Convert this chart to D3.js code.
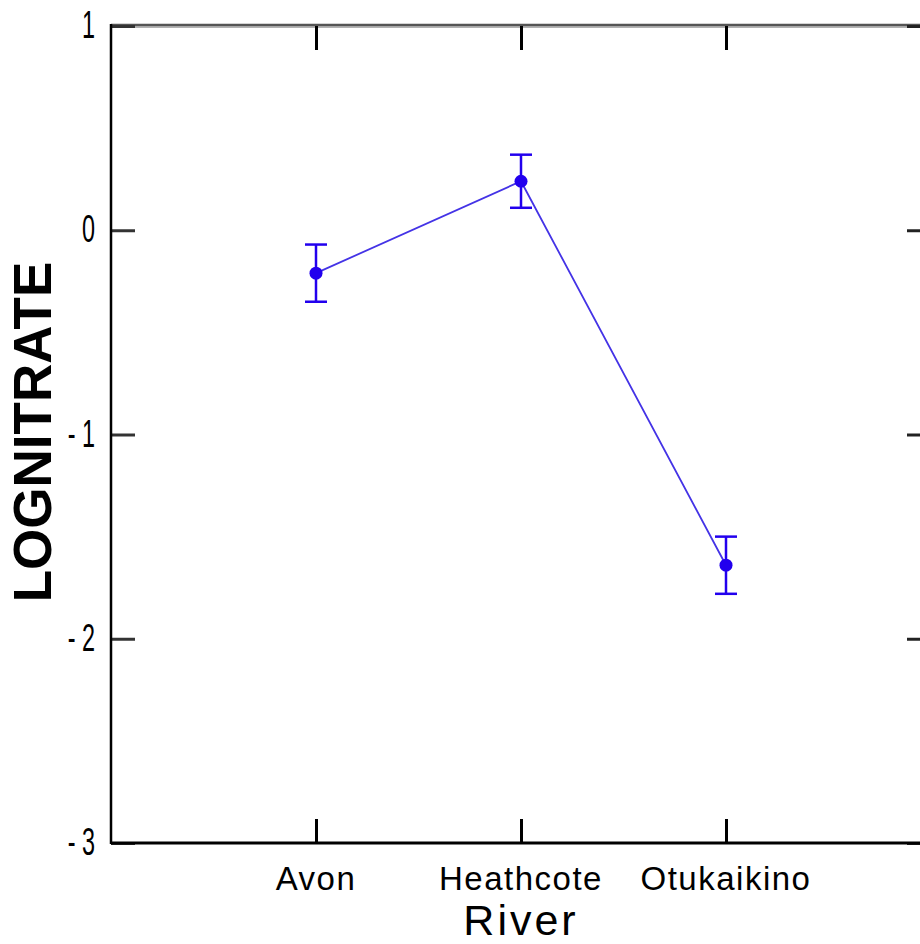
<!DOCTYPE html>
<html>
<head>
<meta charset="utf-8">
<script src="https://cdn.jsdelivr.net/npm/d3@7"></script>
<style>
  html, body { margin: 0; padding: 0; background: #fff; overflow: hidden; }
  svg { display: block; }
</style>
</head>
<body>
<svg id="chart" width="920" height="944"></svg>
<script>
// ---- data ----
const rivers = ["Avon", "Heathcote", "Otukaikino"];
const means = [-0.21, 0.24, -1.64];
const lower = [-0.35, 0.11, -1.78];
const upper = [-0.07, 0.37, -1.50];
const yTicks = [1, 0, -1, -2, -3];
const xTitle = "River";
const yTitle = "LOGNITRATE";

const svg = d3.select("#chart");
const L = 111, R = 931, T = 26, B = 843;

const x = d3.scalePoint().domain(rivers).range([L, R]).padding(1);
const y = d3.scaleLinear().domain([-3, 1]).range([B, T]);

const tickLen = 24;
const font = "'Liberation Sans', Arial, sans-serif";

// frame lines
svg.append("line").attr("x1", L).attr("x2", 920).attr("y1", T - 1).attr("y2", T - 1)
  .attr("stroke", "#555").attr("stroke-width", 2.5);
svg.append("line").attr("x1", L).attr("x2", 920).attr("y1", T + 1).attr("y2", T + 1)
  .attr("stroke", "#999").attr("stroke-width", 1.5);

// left axis
const gL = svg.append("g").attr("transform", `translate(${L},0)`)
  .call(d3.axisRight(y).tickValues(yTicks).tickSize(tickLen).tickFormat(""));
gL.select(".domain").remove();
gL.selectAll(".tick line").attr("stroke", "#333").attr("stroke-width", 3);
svg.append("line").attr("x1", L).attr("x2", L).attr("y1", T - 2).attr("y2", B + 1)
  .attr("stroke", "#000").attr("stroke-width", 2.5);

// y tick labels (tall narrow digits)
svg.append("g").selectAll("text").data(yTicks).join("text")
  .attr("transform", d => `translate(95,${y(d) + 12}) scale(0.6,1)`)
  .attr("text-anchor", "end")
  .attr("font-family", font)
  .attr("font-size", 39)
  .attr("fill", "#000")
  .text(d => d < 0 ? "- " + Math.abs(d) : d);

// right axis ticks
const gR = svg.append("g").attr("transform", `translate(${R},0)`)
  .call(d3.axisLeft(y).tickValues(yTicks).tickSize(tickLen).tickFormat(""));
gR.select(".domain").remove();
gR.selectAll(".tick line").attr("stroke", "#222").attr("stroke-width", 3);

// bottom axis
const gB = svg.append("g").attr("transform", `translate(0,${B})`)
  .call(d3.axisTop(x).tickSize(tickLen).tickFormat(""));
gB.select(".domain").remove();
gB.selectAll(".tick line").attr("stroke", "#000").attr("stroke-width", 3);
svg.append("line").attr("x1", L).attr("x2", 920).attr("y1", B).attr("y2", B)
  .attr("stroke", "#000").attr("stroke-width", 3);

// top axis ticks
const gT = svg.append("g").attr("transform", `translate(0,${T})`)
  .call(d3.axisBottom(x).tickSize(tickLen).tickFormat(""));
gT.select(".domain").remove();
gT.selectAll(".tick line").attr("stroke", "#000").attr("stroke-width", 3);

// x tick labels
svg.append("g").selectAll("text").data(rivers).join("text")
  .attr("x", d => x(d))
  .attr("y", 890)
  .attr("text-anchor", "middle")
  .attr("font-family", font)
  .attr("font-size", 33)
  .attr("letter-spacing", 1.5)
  .attr("fill", "#000")
  .text(d => d);

// axis titles
svg.append("text")
  .attr("x", 521).attr("y", 935)
  .attr("text-anchor", "middle")
  .attr("font-family", font)
  .attr("font-size", 43)
  .attr("letter-spacing", 3)
  .attr("fill", "#000")
  .text(xTitle);

svg.append("text")
  .attr("transform", `translate(51,432) rotate(-90)`)
  .attr("text-anchor", "middle")
  .attr("font-family", font)
  .attr("font-weight", "bold")
  .attr("font-size", 53)
  .attr("fill", "#000")
  .text(yTitle);

// data
const pts = rivers.map((r, i) => ({ r, m: means[i], lo: lower[i], hi: upper[i] }));
const blue = "#2200ee";

svg.append("path").datum(pts)
  .attr("fill", "none")
  .attr("stroke", "#4433e6")
  .attr("stroke-width", 1.8)
  .attr("d", d3.line().x(d => x(d.r)).y(d => y(d.m)));

const eb = svg.append("g").selectAll("g").data(pts).join("g");
eb.append("line")
  .attr("x1", d => x(d.r)).attr("x2", d => x(d.r))
  .attr("y1", d => y(d.hi)).attr("y2", d => y(d.lo))
  .attr("stroke", blue).attr("stroke-width", 2.5);
eb.append("line")
  .attr("x1", d => x(d.r) - 11).attr("x2", d => x(d.r) + 11)
  .attr("y1", d => y(d.hi)).attr("y2", d => y(d.hi))
  .attr("stroke", blue).attr("stroke-width", 2.5);
eb.append("line")
  .attr("x1", d => x(d.r) - 11).attr("x2", d => x(d.r) + 11)
  .attr("y1", d => y(d.lo)).attr("y2", d => y(d.lo))
  .attr("stroke", blue).attr("stroke-width", 2.5);
eb.append("circle")
  .attr("cx", d => x(d.r)).attr("cy", d => y(d.m))
  .attr("r", 6.5).attr("fill", blue);
</script>
</body>
</html>
